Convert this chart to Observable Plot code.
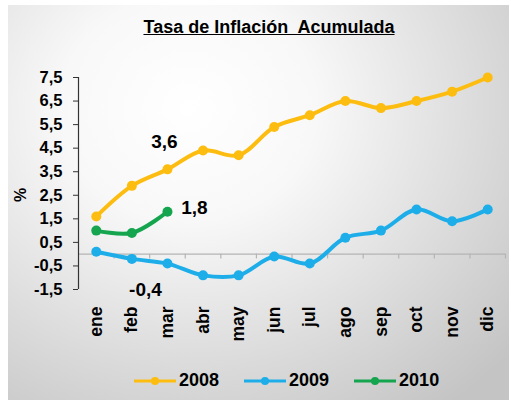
<!DOCTYPE html>
<html>
<head>
<meta charset="utf-8">
<script src="https://cdn.jsdelivr.net/npm/d3@7"></script>
<script src="https://cdn.jsdelivr.net/npm/@observablehq/plot@0.6"></script>
<style>
  html, body { margin: 0; padding: 0; background: #fff; }
  #wrap { position: relative; width: 511px; height: 400px; overflow: hidden; background: #fff; font-family: "Liberation Sans", Arial, sans-serif; }
  #panel { position: absolute; left: 8px; top: 5px; width: 501px; height: 395px;
    background: radial-gradient(ellipse 85% 95% at 36% 26%, #ffffff 0%, #f8f8f8 30%, #dadada 70%, #c4c4c4 100%); }
  #title { position: absolute; left: 0; width: 538px; top: 17px; text-align: center; font-size: 18px; font-weight: bold; text-decoration: underline; white-space: pre; color: #000; }
  #ylab { position: absolute; left: 14px; top: 186px; font-size: 16px; font-weight: bold; transform: rotate(-90deg); color: #000; }
  #chart { position: absolute; left: 0; top: 0; }
  #legend { position: absolute; left: 134px; top: 370px; display: flex; align-items: center; gap: 25px; }
  .item { display: flex; align-items: center; gap: 3px; font-size: 18px; font-weight: bold; color: #000; }
</style>
</head>
<body>
<div id="wrap">
  <div id="panel"></div>
  <div id="title"></div>
  <div id="ylab"></div>
  <div id="chart"></div>
  <div id="legend"></div>
</div>
<script>
const titleText = "Tasa de Inflación  Acumulada";
const yLabel = "%";
const months = ["ene","feb","mar","abr","may","jun","jul","ago","sep","oct","nov","dic"];
const yTicks = [-1.5, -0.5, 0.5, 1.5, 2.5, 3.5, 4.5, 5.5, 6.5, 7.5];
const seriesNames = ["2008", "2009", "2010"];
const seriesColors = ["#FDBD10", "#1DAEEA", "#14A54E"];
const v2008 = [1.6, 2.9, 3.6, 4.4, 4.2, 5.4, 5.9, 6.5, 6.2, 6.5, 6.9, 7.5];
const v2009 = [0.1, -0.2, -0.4, -0.9, -0.9, -0.1, -0.4, 0.7, 1.0, 1.9, 1.4, 1.9];
const v2010 = [1.0, 0.9, 1.8];
// labelled points: series, month
const labelled = [["2008", "mar"], ["2009", "mar"], ["2010", "mar"]];

const fmt = d => d.toFixed(1).replace(".", ",");
const seriesValues = {"2008": v2008, "2009": v2009, "2010": v2010};
const data = seriesNames.flatMap(s => seriesValues[s].map((v, i) => ({series: s, month: months[i], i, value: v})));
const labelRows = labelled.map(([s, m]) => data.find(d => d.series === s && d.month === m));
const colorOf = s => seriesColors[seriesNames.indexOf(s)];
const boundaries = d3.range(12).map(i => i + 0.5);

document.getElementById("title").textContent = titleText;
document.getElementById("ylab").textContent = yLabel;

const chart = Plot.plot({
  width: 511,
  height: 400,
  marginLeft: 78,
  marginRight: 6,
  marginTop: 77,
  marginBottom: 111,
  style: {background: "transparent", fontFamily: "'Liberation Sans', Arial, sans-serif", fontSize: "16px", fontWeight: "bold", color: "#000", overflow: "visible"},
  x: {type: "linear", domain: [-0.5, 11.5]},
  y: {domain: [-1.5, 7.5]},
  marks: [
    Plot.ruleY([0], {stroke: "#b4b4b4", strokeWidth: 1.2}),
    Plot.ruleX(boundaries, {x: d => d, y1: 0, y2: -0.2, stroke: "#b4b4b4", strokeWidth: 1.2}),
    Plot.ruleX([-0.5], {y1: -1.5, y2: 7.5, stroke: "#333", strokeWidth: 1.2}),
    Plot.axisY({ticks: yTicks, tickFormat: fmt, tickSize: 5, tickPadding: 11, label: null, stroke: "#333", fontSize: 16.5}),
    Plot.axisX({ticks: d3.range(12), tickFormat: i => months[i], tickRotate: -90, tickSize: 0, tickPadding: 17, label: null, fontSize: 17.5}),
    ...seriesNames.map(s => Plot.line(data.filter(d => d.series === s), {x: "i", y: "value", stroke: colorOf(s), strokeWidth: 4, curve: "catmull-rom"})),
    ...seriesNames.map(s => Plot.dot(data.filter(d => d.series === s), {x: "i", y: "value", fill: colorOf(s), r: 5})),
    Plot.text([labelRows[0]], {x: "i", y: "value", text: d => fmt(d.value), dx: -3, dy: -27, fontSize: 19, fontWeight: "bold", fill: "#000"}),
    Plot.text([labelRows[1]], {x: "i", y: "value", text: d => fmt(d.value), dx: -22, dy: 26, fontSize: 19, fontWeight: "bold", fill: "#000"}),
    Plot.text([labelRows[2]], {x: "i", y: "value", text: d => fmt(d.value), dx: 27, dy: -4, fontSize: 19, fontWeight: "bold", fill: "#000"})
  ]
});
document.getElementById("chart").appendChild(chart);

const legend = document.getElementById("legend");
seriesNames.forEach((s, k) => {
  const item = document.createElement("div");
  item.className = "item";
  item.innerHTML = `<svg width="42" height="12"><line x1="0" y1="6" x2="42" y2="6" stroke="${seriesColors[k]}" stroke-width="3"/><circle cx="21" cy="6" r="4" fill="${seriesColors[k]}"/></svg><span>${s}</span>`;
  legend.appendChild(item);
});
</script>
</body>
</html>
